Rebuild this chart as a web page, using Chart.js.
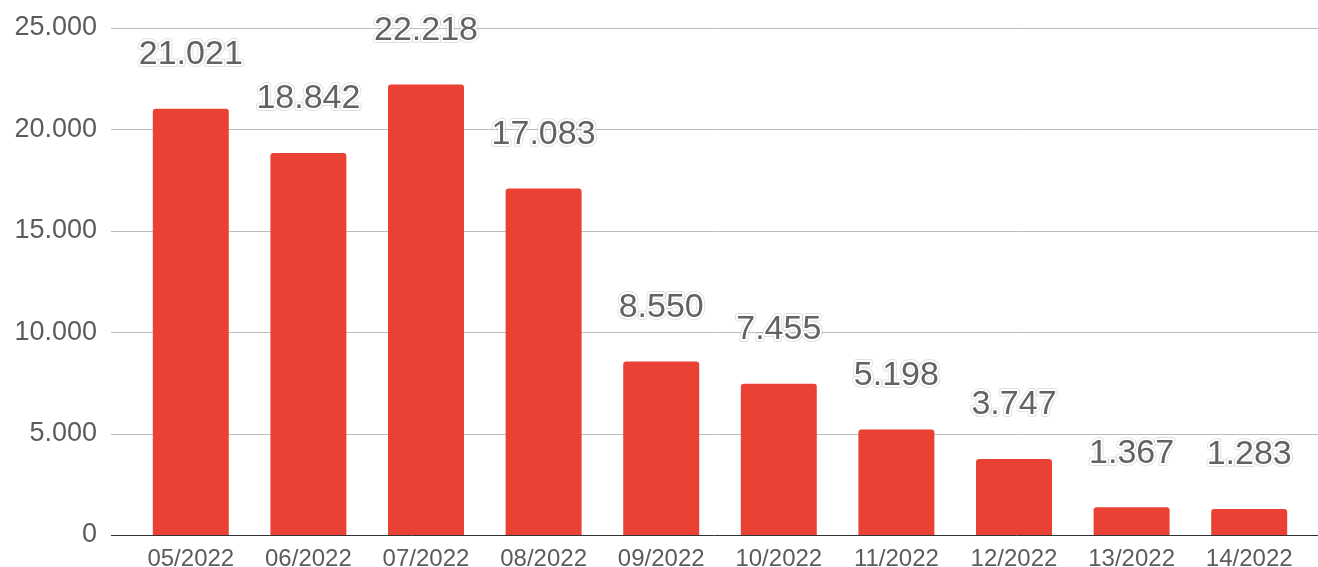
<!DOCTYPE html>
<html>
<head>
<meta charset="utf-8">
<script src="https://cdn.jsdelivr.net/npm/chart.js@4/dist/chart.umd.min.js"></script>
<style>
  html, body { margin: 0; padding: 0; background: #fff; }
  #wrap { width: 1318px; height: 567px; }
</style>
</head>
<body>
<div id="wrap"><canvas id="chart" width="1318" height="567"></canvas></div>
<script>
const labels = ['05/2022', '06/2022', '07/2022', '08/2022', '09/2022', '10/2022', '11/2022', '12/2022', '13/2022', '14/2022'];
const values = [21021, 18842, 22218, 17083, 8550, 7455, 5198, 3747, 1367, 1283];
const yMax = 25000;
const yStep = 5000;

function fmt(n) {
  return String(n).replace(/\B(?=(\d{3})+(?!\d))/g, '.');
}

// gridlines run wider than the bar area, from the tick labels to the right edge
const gridPlugin = {
  id: 'wideGrid',
  beforeDatasetsDraw(chart) {
    const ctx = chart.ctx;
    const y = chart.scales.y;
    ctx.save();
    ctx.lineWidth = 1;
    y.ticks.forEach(t => {
      if (t.value === 0) return;
      const py = Math.round(y.getPixelForValue(t.value)) + 0.5;
      ctx.strokeStyle = '#bdbdbd';
      ctx.beginPath();
      ctx.moveTo(111, py);
      ctx.lineTo(1318, py);
      ctx.stroke();
    });
    ctx.restore();
  },
  afterDatasetsDraw(chart) {
    const ctx = chart.ctx;
    const y = chart.scales.y;
    const py = Math.round(y.getPixelForValue(0)) + 0.5;
    ctx.save();
    ctx.strokeStyle = '#333';
    ctx.lineWidth = 1;
    ctx.beginPath();
    ctx.moveTo(111, py);
    ctx.lineTo(1318, py);
    ctx.stroke();
    ctx.restore();
  }
};

const valueLabels = {
  id: 'valueLabels',
  afterDatasetsDraw(chart) {
    const ctx = chart.ctx;
    const meta = chart.getDatasetMeta(0);
    ctx.save();
    ctx.font = '34px "Liberation Sans", Arial, sans-serif';
    ctx.textAlign = 'center';
    ctx.textBaseline = 'middle';
    ctx.lineJoin = 'round';
    meta.data.forEach((bar, i) => {
      const txt = fmt(values[i]);
      const ty = bar.y - 54;
      // faint grey rim round the white halo
      ctx.strokeStyle = 'rgba(0,0,0,0.12)';
      ctx.lineWidth = 6;
      ctx.strokeText(txt, bar.x, ty);
      ctx.strokeStyle = '#fff';
      ctx.lineWidth = 4;
      ctx.strokeText(txt, bar.x, ty);
      ctx.fillStyle = '#636363';
      ctx.fillText(txt, bar.x, ty);
    });
    ctx.restore();
  }
};

new Chart(document.getElementById('chart'), {
  type: 'bar',
  data: {
    labels,
    datasets: [{
      data: values,
      backgroundColor: '#e94235',
      borderRadius: { topLeft: 3, topRight: 3 },
      borderSkipped: 'bottom',
      categoryPercentage: 1,
      barPercentage: 0.646
    }]
  },
  options: {
    responsive: false,
    devicePixelRatio: 1,
    animation: false,
    layout: { padding: { top: 28, right: 10, left: 0, bottom: 0 } },
    plugins: { legend: { display: false }, tooltip: { enabled: false } },
    scales: {
      x: {
        grid: { display: false, drawTicks: false },
        border: { display: false },
        ticks: {
          color: '#5b5b5b',
          font: { family: '"Liberation Sans", Arial, sans-serif', size: 24 },
          padding: 10,
          maxRotation: 0
        },
        afterFit(scale) {
          scale.height = 32;
          scale.paddingLeft = 0;
          scale.paddingRight = 0;
        }
      },
      y: {
        min: 0,
        max: yMax,
        grid: { display: false, drawTicks: false },
        border: { display: false },
        ticks: {
          stepSize: yStep,
          color: '#5b5b5b',
          font: { family: '"Liberation Sans", Arial, sans-serif', size: 27 },
          padding: 35,
          callback: v => fmt(v)
        },
        afterFit(scale) {
          scale.width = 132;
          scale.paddingTop = 0;
          scale.paddingBottom = 0;
        }
      }
    }
  },
  plugins: [gridPlugin, valueLabels]
});
</script>
</body>
</html>
